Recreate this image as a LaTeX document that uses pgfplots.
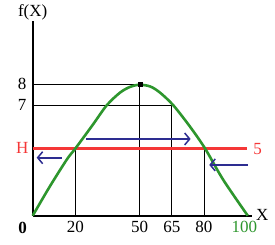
\documentclass[border=0pt]{standalone}
\usepackage{fontspec}
\setmainfont{Liberation Serif}
\usepackage{pgfplots}
\pgfplotsset{compat=1.18}
\usetikzlibrary{arrows.meta}
\definecolor{cgreen}{RGB}{45,150,45}
\definecolor{cred}{RGB}{245,55,55}
\definecolor{cblue}{RGB}{45,45,145}
\begin{document}
\fontsize{17bp}{20bp}\selectfont
\begin{tikzpicture}
\useasboundingbox (-32.7bp,-29.3bp) rectangle (242.3bp,215.7bp);
\begin{axis}[
  at={(0,0)}, anchor=south west,
  scale only axis, x=2.14bp, y=16.43bp,
  xmin=0, xmax=102.5, ymin=0, ymax=11.85,
  axis lines=left, axis line style={-, line width=2bp},
  clip=false,
  xtick={20,50,65,80}, xticklabels={20,50,65,80},
  ytick={4.1,6.72,8}, yticklabels={\textcolor{cred}{H},7,8},
  major tick length=0pt,
  /pgf/number format/assume math mode=true,
  xticklabel style={anchor=center, yshift=-11.3bp, font=\fontsize{17bp}{20bp}\selectfont},
  yticklabel style={anchor=center, xshift=-10.5bp, font=\fontsize{17bp}{20bp}\selectfont},
]
% guide lines
\addplot[black, line width=0.8bp] coordinates {(0,8) (50,8) (50,0)};
\addplot[black, line width=0.8bp] coordinates {(0,6.72) (65,6.72) (65,0)};
\addplot[black, line width=0.8bp] coordinates {(20,0) (20,4.1)};
\addplot[black, line width=0.8bp] coordinates {(80,0) (80,4.1)};
% H line
\addplot[cred, line width=2.8bp] coordinates {(0,4.1) (100.3,4.1)};
% curve
\addplot[cgreen, line width=2.6bp, smooth, tension=0.5] coordinates {
 (0,0) (8,1.78) (16,3.43) (20,4.1) (28,5.52) (34.6,6.72) (40.8,7.49) (45.5,7.84) (50,7.97)
 (55,7.86) (59.5,7.49) (65.7,6.72) (73.5,5.42) (80.5,4.1) (89.1,2.17) (100.5,0)};
% dot
\addplot[only marks, mark=square*, mark size=2bp, black] coordinates {(50,8)};
% arrows
\addplot[cblue, line width=1.8bp, -{Straight Barb[length=5bp,width=12bp,line width=1.5bp]}] coordinates {(13.55,3.53) (1.87,3.53)};
\addplot[cblue, line width=1.8bp, -{Straight Barb[length=5bp,width=12bp,line width=1.5bp]}] coordinates {(24.9,4.67) (73.8,4.67)};
\addplot[cblue, line width=1.8bp, -{Straight Barb[length=5bp,width=12bp,line width=1.5bp]}] coordinates {(100.7,3.09) (82.5,3.09)};
\end{axis}
\node at (0bp,203.4bp) {f(X)};
\node at (229.6bp,0.7bp) {X};
\node at (-10bp,-12bp) {\bfseries 0};
\node[text=cgreen] at (211.6bp,-11.3bp) {100};
\node[text=cred] at (225bp,66.4bp) {5};
\end{tikzpicture}
\end{document}
